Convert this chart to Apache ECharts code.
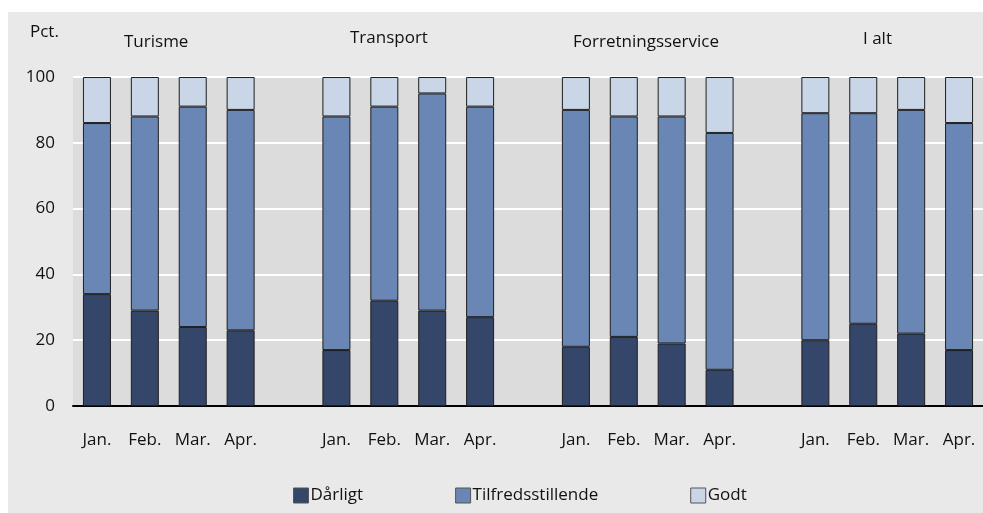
<!DOCTYPE html>
<html>
<head>
<meta charset="utf-8">
<script src="https://cdn.jsdelivr.net/npm/echarts@6/dist/echarts.min.js"></script>
<style>
  html, body { margin: 0; padding: 0; background: #fff; }
  #chart { width: 983px; height: 513px; }
</style>
</head>
<body>
<div id="chart"></div>
<script>
// månederne i hver gruppe
const months = ['Jan.', 'Feb.', 'Mar.', 'Apr.']
const groups = ['Turisme', 'Transport', 'Forretningsservice', 'I alt']

// pct. af virksomhederne, pr. gruppe (Jan.-Apr.)
const darligt = [
  [34, 29, 24, 23],
  [17, 32, 29, 27],
  [18, 21, 19, 11],
  [20, 25, 22, 17]
]
const tilfreds = [
  [52, 59, 67, 67],
  [71, 59, 66, 64],
  [72, 67, 69, 72],
  [69, 64, 68, 69]
]
const godt = [
  [14, 12, 9, 10],
  [12, 9, 5, 9],
  [10, 12, 12, 17],
  [11, 11, 10, 14]
]
const yTicks = [0, 20, 40, 60, 80, 100]

const font = '"Open Sans", sans-serif'

// kategorier med tom plads mellem grupperne
const categories = []
groups.forEach((g, i) => {
  if (i > 0) categories.push('')
  months.forEach(m => categories.push(m))
})
function flatten (arr) {
  const out = []
  arr.forEach((vals, i) => {
    if (i > 0) out.push('-')
    vals.forEach(v => out.push(v))
  })
  return out
}

function barSeries (name, data, color) {
  return {
    name,
    type: 'bar',
    stack: 'total',
    barWidth: 28,
    data: flatten(data),
    itemStyle: { color, borderColor: '#1e1e1e', borderWidth: 1 }
  }
}

const chart = echarts.init(document.getElementById('chart'), null, { renderer: 'canvas' })

chart.setOption({
  animation: false,
  backgroundColor: '#fff',
  textStyle: { fontFamily: font },
  grid: {
    left: 73, right: -3, top: 77, bottom: 107,
    show: true, backgroundColor: '#dcdcdc', borderWidth: 0
  },
  graphic: [
    { type: 'rect', z: -10, silent: true, shape: { x: 8, y: 12, width: 975, height: 501 }, style: { fill: '#e9e9e9' } },
    { type: 'text', left: 30, top: 24, style: { text: 'Pct.', font: '17px ' + font, fill: '#111' } },
    { type: 'text', left: 124, top: 34, style: { text: groups[0], font: '17px ' + font, fill: '#111' } },
    { type: 'text', left: 350, top: 30, style: { text: groups[1], font: '17px ' + font, fill: '#111' } },
    { type: 'text', left: 573, top: 34, style: { text: groups[2], font: '17px ' + font, fill: '#111' } },
    { type: 'text', left: 863, top: 31, style: { text: groups[3], font: '17px ' + font, fill: '#111' } }
  ],
  legend: {
    left: 288, bottom: 4,
    itemWidth: 15, itemHeight: 15, itemGap: 92,
    icon: 'rect',
    textStyle: { fontSize: 17, color: '#111', fontFamily: font, padding: [0, 0, 0, -3] },
    itemStyle: { borderColor: '#555', borderWidth: 1 },
    data: ['Dårligt', 'Tilfredsstillende', 'Godt']
  },
  xAxis: {
    type: 'category',
    data: categories,
    axisLine: { lineStyle: { color: '#000', width: 2 } },
    axisTick: { show: false },
    axisLabel: { fontSize: 17, color: '#111', margin: 26, interval: 0 }
  },
  yAxis: {
    type: 'value',
    min: 0, max: 100, interval: 20,
    axisLine: { show: false },
    axisTick: { show: false },
    axisLabel: {
      fontSize: 17, color: '#111', margin: 18,
      formatter: v => (yTicks.includes(v) ? String(v) : '')
    },
    splitLine: { lineStyle: { color: '#fff', width: 2 } }
  },
  series: [
    barSeries('Dårligt', darligt, '#34466a'),
    barSeries('Tilfredsstillende', tilfreds, '#6a86b4'),
    barSeries('Godt', godt, '#c8d6e8')
  ]
})
</script>
</body>
</html>
